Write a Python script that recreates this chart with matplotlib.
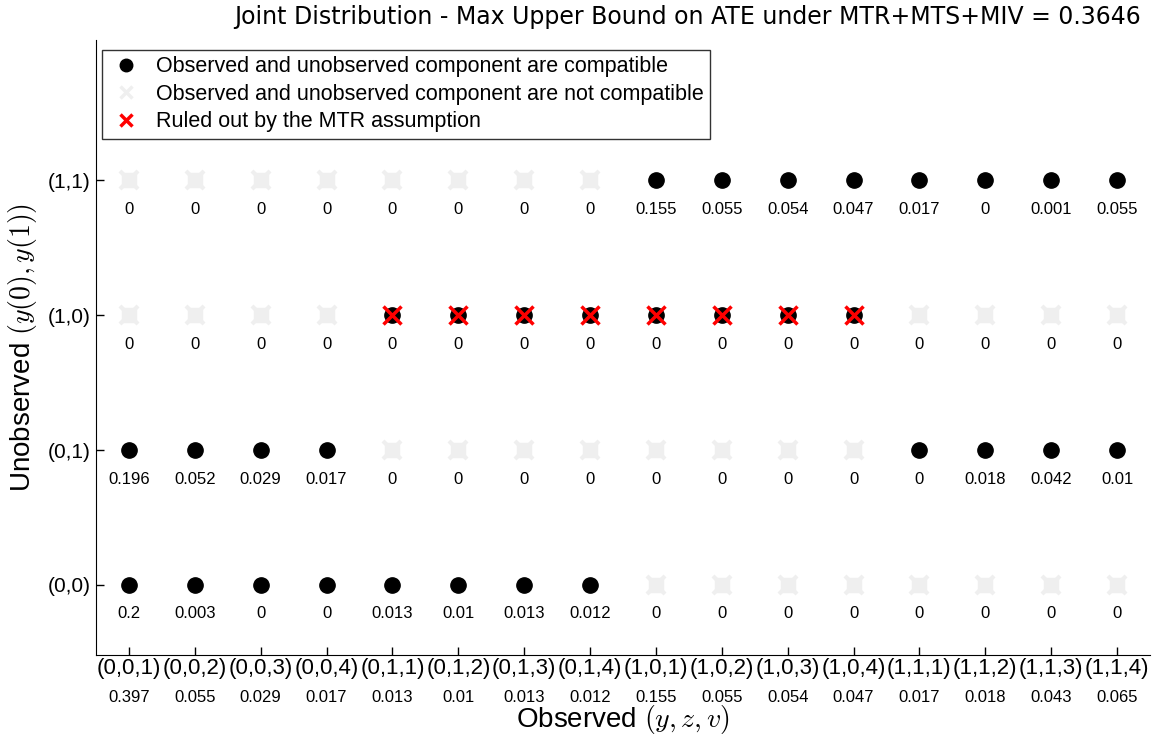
import matplotlib
matplotlib.use("Agg")
import matplotlib.pyplot as plt
import numpy as np

plt.rcParams["font.family"] = ["Liberation Sans", "DejaVu Sans"]
plt.rcParams["mathtext.fontset"] = "cm"

observed_labels = ["(0,0,1)", "(0,0,2)", "(0,0,3)", "(0,0,4)", "(0,1,1)", "(0,1,2)", "(0,1,3)", "(0,1,4)",
                   "(1,0,1)", "(1,0,2)", "(1,0,3)", "(1,0,4)", "(1,1,1)", "(1,1,2)", "(1,1,3)", "(1,1,4)"]
observed_probs = ["0.397", "0.055", "0.029", "0.017", "0.013", "0.01", "0.013", "0.012",
                  "0.155", "0.055", "0.054", "0.047", "0.017", "0.018", "0.043", "0.065"]
unobserved_labels = ["(0,0)", "(0,1)", "(1,0)", "(1,1)"]

row_00 = ["0.2", "0.003", "0", "0", "0.013", "0.01", "0.013", "0.012", "0", "0", "0", "0", "0", "0", "0", "0"]
row_01 = ["0.196", "0.052", "0.029", "0.017", "0", "0", "0", "0", "0", "0", "0", "0", "0", "0.018", "0.042", "0.01"]
row_10 = ["0"] * 16
row_11 = ["0", "0", "0", "0", "0", "0", "0", "0", "0.155", "0.055", "0.054", "0.047", "0.017", "0", "0.001", "0.055"]
values = [row_00, row_01, row_10, row_11]

# status: 1 = compatible, 0 = not compatible, 2 = ruled out by MTR
status_00 = [1]*8 + [0]*8
status_01 = [1]*4 + [0]*8 + [1]*4
status_10 = [0]*4 + [2]*8 + [0]*4
status_11 = [0]*8 + [1]*8
status = [status_00, status_01, status_10, status_11]

fig = plt.figure(figsize=(11.54, 7.40), dpi=100)
ax = fig.add_axes([96/1154, 1-655/740, (1150-96)/1154, (655-40)/740])

xs = np.arange(1, 17)
gray = "#efefef"
for r in range(4):
    y = r + 1
    for c in range(16):
        x = xs[c]
        s = status[r][c]
        if s == 1:
            ax.plot(x, y, "o", color="black", ms=11, zorder=3)
        elif s == 0:
            ax.plot(x, y, "s", color=gray, ms=9.5, zorder=2, mec=gray)
            ax.plot(x, y, "x", color=gray, ms=12.5, mew=3, zorder=2)
        else:
            ax.plot(x, y, "o", color="black", ms=11, zorder=3)
            ax.plot(x, y, "x", color="red", ms=12.5, mew=2.5, zorder=4)
        ax.annotate(values[r][c], (x, y), xytext=(0, -29), textcoords="offset pixels",
                    ha="center", va="center", fontsize=12)

ax.set_xlim(0.5, 16.5)
ax.set_ylim(0.48, 5.04)
ax.spines["top"].set_visible(False)
ax.spines["right"].set_visible(False)
ax.set_xticks(xs)
ax.set_xticklabels(observed_labels, fontsize=16)
for c in range(16):
    ax.text(xs[c], -42/615, observed_probs[c], transform=ax.get_xaxis_transform(),
            ha="center", va="center", fontsize=12)
ax.set_yticks([1, 2, 3, 4])
ax.set_yticklabels(unobserved_labels, fontsize=15)
ax.tick_params(direction="in", length=6, width=1)
ax.tick_params(axis="x", pad=2)
ax.tick_params(axis="y", pad=4)
ax.set_xlabel(r"Observed $(y,z,v)$", fontsize=20)
ax.xaxis.set_label_coords(0.5, -65/615)
ax.xaxis.label.set_va("center")
ax.set_ylabel(r"Unobserved $(y(0),y(1))$", fontsize=20)
ax.yaxis.set_label_coords(-73/1054, 0.5)
ax.yaxis.label.set_va("center")

h1, = ax.plot([], [], "o", color="black", ms=9)
h2, = ax.plot([], [], "x", color=gray, ms=8, mew=2.5)
h3, = ax.plot([], [], "x", color="red", ms=8, mew=2.5)
leg = ax.legend([h1, h2, h3],
                ["Observed and unobserved component are compatible",
                 "Observed and unobserved component are not compatible",
                 "Ruled out by the MTR assumption"],
                loc="upper left", bbox_to_anchor=(6/1054, 1-10/615), fontsize=15.5, frameon=True,
                fancybox=False, edgecolor="black", handletextpad=0.6, handlelength=1.6,
                borderpad=0.3, labelspacing=0.3, borderaxespad=0.0)
leg.get_frame().set_linewidth(1.0)

fig.text(688/1154, 1-17/740, "Joint Distribution - Max Upper Bound on ATE under MTR+MTS+MIV = 0.3646",
         ha="center", va="center", fontsize=17, family="DejaVu Sans")

fig.savefig("out.png", dpi=100)
